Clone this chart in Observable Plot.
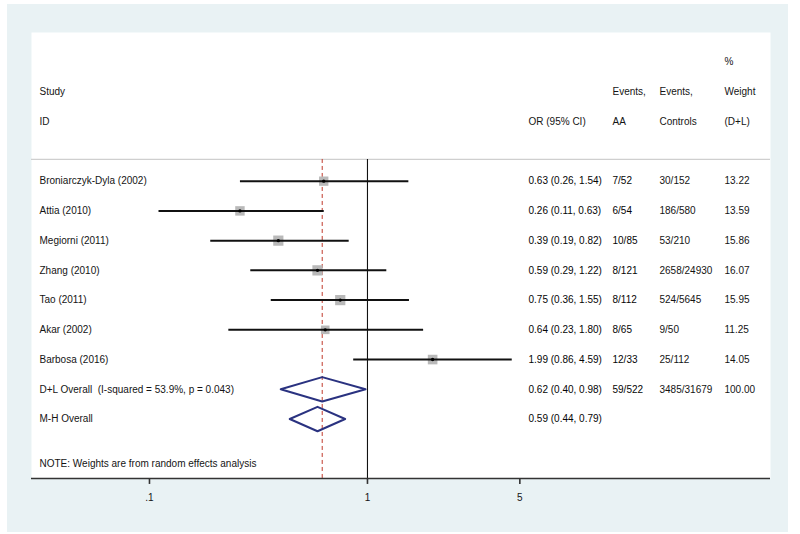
<!DOCTYPE html>
<html>
<head>
<meta charset="utf-8">
<script src="https://cdn.jsdelivr.net/npm/d3@7"></script>
<script src="https://cdn.jsdelivr.net/npm/@observablehq/plot@0.6"></script>
<style>
  html, body { margin: 0; padding: 0; background: #ffffff; width: 800px; height: 534px; overflow: hidden; }
  #bg { position: absolute; left: 7px; top: 4px; width: 781px; height: 528px; background: #e9f2f4; }
  #chart { position: absolute; left: 0; top: 0; }
</style>
</head>
<body>
<div id="bg"></div>
<div id="chart"></div>
<script>
// ---- Data ----
const studies = ["Broniarczyk-Dyla (2002)", "Attia (2010)", "Megiorni (2011)", "Zhang (2010)", "Tao (2011)", "Akar (2002)", "Barbosa (2016)"];
const orEst = [0.63, 0.26, 0.39, 0.59, 0.75, 0.64, 1.99];
const ciLow = [0.26, 0.11, 0.19, 0.29, 0.36, 0.23, 0.86];
const ciHigh = [1.54, 0.63, 0.82, 1.22, 1.55, 1.80, 4.59];
const eventsAA = ["7/52", "6/54", "10/85", "8/121", "8/112", "8/65", "12/33"];
const eventsControls = ["30/152", "186/580", "53/210", "2658/24930", "524/5645", "9/50", "25/112"];
const weights = [13.22, 13.59, 15.86, 16.07, 15.95, 11.25, 14.05];

const overallLabels = ["D+L Overall  (I-squared = 53.9%, p = 0.043)", "M-H Overall"];
const overallEst = [0.62, 0.59];
const overallLow = [0.40, 0.44];
const overallHigh = [0.98, 0.79];
const overallAA = ["59/522", ""];
const overallControls = ["3485/31679", ""];
const overallWeight = ["100.00", ""];

const headerRow1 = { weight: "%" };
const headerRow2 = { study: "Study", aa: "Events,", ctrl: "Events,", weight: "Weight" };
const headerRow3 = { study: "ID", or: "OR (95% CI)", aa: "AA", ctrl: "Controls", weight: "(D+L)" };
const note = "NOTE: Weights are from random effects analysis";

const xTicks = [0.1, 1, 5];
const xTickLabels = [".1", "1", "5"];

// ---- Build tables ----
const fmt = d3.format(".2f");
const rows = studies.map((s, i) => ({
  row: i, label: s, or: orEst[i], lo: ciLow[i], hi: ciHigh[i],
  orText: `${fmt(orEst[i])} (${fmt(ciLow[i])}, ${fmt(ciHigh[i])})`,
  aa: eventsAA[i], ctrl: eventsControls[i], weight: weights[i], wText: fmt(weights[i])
}));
const overall = overallLabels.map((s, i) => ({
  row: studies.length + i, label: s, or: overallEst[i], lo: overallLow[i], hi: overallHigh[i],
  orText: `${fmt(overallEst[i])} (${fmt(overallLow[i])}, ${fmt(overallHigh[i])})`,
  aa: overallAA[i], ctrl: overallControls[i], wText: overallWeight[i]
}));
const allRows = [...rows, ...overall];
const headers = [
  { row: -4, ...headerRow1 },
  { row: -3, ...headerRow2 },
  { row: -2, ...headerRow3 }
];
const noteRow = studies.length + overallLabels.length + 0.5;
const sepRow = -0.73;
const bottomRow = 10;
const tickLen = 0.2;

const dh = 0.41; // diamond half-height in row units
const diamonds = overall.flatMap((d, k) => [
  { k, x: d.lo, y: d.row },
  { k, x: d.or, y: d.row - dh },
  { k, x: d.hi, y: d.row },
  { k, x: d.or, y: d.row + dh },
  { k, x: d.lo, y: d.row }
]);
const tickData = xTicks.map((v, i) => ({ v, label: xTickLabels[i] }));

const textCol = "#141414";
const colLabel = 8, colOR = 497, colAA = 581, colCtrl = 628, colW = 693;

const chart = Plot.plot({
  width: 800,
  height: 534,
  marginLeft: 31,
  marginRight: 30,
  marginTop: 32,
  marginBottom: 56,
  style: { fontFamily: "'Liberation Sans', Arial, sans-serif", fontSize: "10px", background: "transparent", color: textCol },
  x: { type: "log", domain: [0.02876, 70.6], axis: null },
  y: { type: "linear", domain: [-5, bottomRow], reverse: true, axis: null },
  r: { range: [0, 5.8] },
  marks: [
    Plot.frame({ fill: "white", stroke: "none" }),
    // separator
    Plot.ruleY([sepRow], { stroke: "#cfcfcf", strokeWidth: 1.2 }),
    // null line and overall estimate line
    Plot.ruleX([1], { y1: sepRow, y2: bottomRow, stroke: "#111", strokeWidth: 1.1 }),
    Plot.ruleX([overallEst[0]], { y1: sepRow, y2: bottomRow, stroke: "#c0392b", strokeWidth: 1, strokeDasharray: "4,3" }),
    // study boxes
    Plot.dot(rows, { x: "or", y: "row", r: "weight", symbol: "square", fill: "#b9b9b9", stroke: "none" }),
    Plot.link(rows, { x1: "lo", x2: "hi", y1: "row", y2: "row", stroke: "#111", strokeWidth: 2 }),
    Plot.dot(rows, { x: "or", y: "row", r: 1.7, fill: "#000", stroke: "none" }),
    // diamonds
    Plot.line(diamonds, { x: "x", y: "y", z: "k", stroke: "#2a3280", strokeWidth: 2, curve: "linear", strokeLinejoin: "round" }),
    // axis
    Plot.ruleY([bottomRow], { stroke: "#333", strokeWidth: 1.5 }),
    Plot.ruleX(tickData, { x: "v", y1: bottomRow, y2: bottomRow + tickLen, stroke: "#333", strokeWidth: 1.6 }),
    Plot.text(tickData, { x: "v", y: bottomRow, text: "label", dy: 19, fill: textCol }),
    // headers
    Plot.text(headers, { y: "row", text: "study", frameAnchor: "left", dx: colLabel, textAnchor: "start", fill: textCol }),
    Plot.text(headers, { y: "row", text: "or", frameAnchor: "left", dx: colOR, textAnchor: "start", fill: textCol }),
    Plot.text(headers, { y: "row", text: "aa", frameAnchor: "left", dx: colAA, textAnchor: "start", fill: textCol }),
    Plot.text(headers, { y: "row", text: "ctrl", frameAnchor: "left", dx: colCtrl, textAnchor: "start", fill: textCol }),
    Plot.text(headers, { y: "row", text: "weight", frameAnchor: "left", dx: colW, textAnchor: "start", fill: textCol }),
    // rows
    Plot.text(allRows, { y: "row", text: "label", frameAnchor: "left", dx: colLabel, textAnchor: "start", fill: textCol }),
    Plot.text(allRows, { y: "row", text: "orText", frameAnchor: "left", dx: colOR, textAnchor: "start", fill: "#050505" }),
    Plot.text(allRows, { y: "row", text: "aa", frameAnchor: "left", dx: colAA, textAnchor: "start", fill: "#050505" }),
    Plot.text(allRows, { y: "row", text: "ctrl", frameAnchor: "left", dx: colCtrl, textAnchor: "start", fill: textCol }),
    Plot.text(allRows, { y: "row", text: "wText", frameAnchor: "left", dx: colW, textAnchor: "start", fill: textCol }),
    // note
    Plot.text([note], { y: noteRow, text: d => d, frameAnchor: "left", dx: colLabel, textAnchor: "start", fill: textCol })
  ]
});
document.getElementById("chart").appendChild(chart);
</script>
</body>
</html>
